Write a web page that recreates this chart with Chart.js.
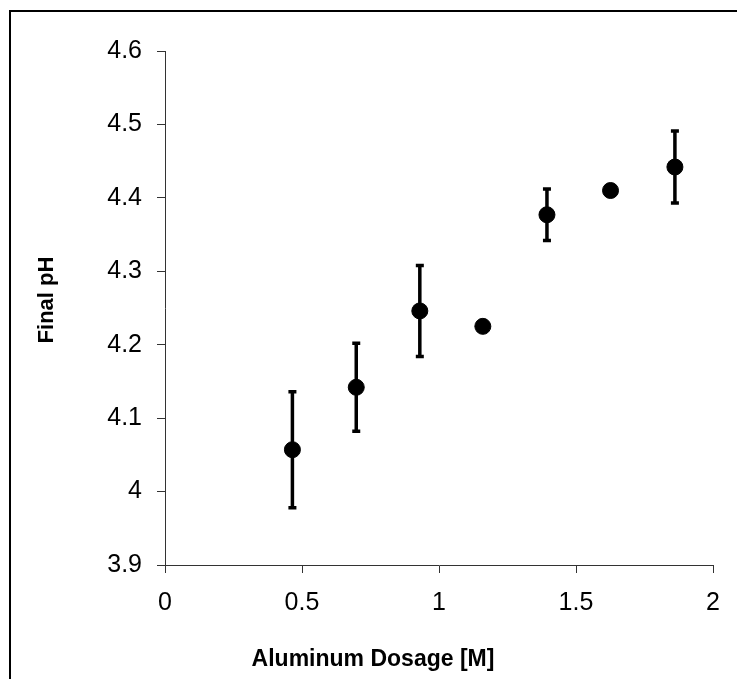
<!DOCTYPE html>
<html>
<head>
<meta charset="utf-8">
<script src="https://cdn.jsdelivr.net/npm/chart.js@4"></script>
<style>
  html, body { margin: 0; padding: 0; background: #fff; overflow: hidden; }
  #wrap { position: relative; width: 737px; height: 679px; }
  #frame {
    position: absolute; left: 9px; top: 10px; width: 760px; height: 700px;
    border-left: 2px solid #000; border-top: 2px solid #000; pointer-events: none;
  }
</style>
</head>
<body>
<div id="wrap">
  <canvas id="phChart" width="737" height="679"></canvas>
  <div id="frame"></div>
</div>
<script>
// values
const dosage  = [0.465, 0.698, 0.930, 1.160, 1.394, 1.626, 1.861];
const finalPH = [4.057, 4.142, 4.246, 4.225, 4.377, 4.410, 4.442];
const phError = [0.079, 0.060, 0.062, 0, 0.035, 0, 0.049];

const xTitle = 'Aluminum Dosage [M]';
const yTitle = 'Final pH';
const FONT = '"Liberation Sans", Arial, sans-serif';

const fmt = v => String(parseFloat(Number(v).toFixed(1)));

// error bars with small caps
const errorBars = {
  id: 'errorBars',
  afterDatasetsDraw(chart) {
    const ctx = chart.ctx;
    const xs = chart.scales.x, ys = chart.scales.y;
    ctx.save();
    ctx.strokeStyle = '#000';
    ctx.lineWidth = 3.5;
    dosage.forEach((d, i) => {
      if (!phError[i]) return;
      const px = xs.getPixelForValue(d);
      const top = ys.getPixelForValue(finalPH[i] + phError[i]);
      const bot = ys.getPixelForValue(finalPH[i] - phError[i]);
      ctx.beginPath();
      ctx.moveTo(px, top); ctx.lineTo(px, bot);
      ctx.moveTo(px - 4, top); ctx.lineTo(px + 4, top);
      ctx.moveTo(px - 4, bot); ctx.lineTo(px + 4, bot);
      ctx.stroke();
    });
    ctx.restore();
  }
};

// axis titles (x title sits left of the plot centre in the original)
const axisTitles = {
  id: 'axisTitles',
  afterDraw(chart) {
    const ctx = chart.ctx;
    const a = chart.chartArea;
    ctx.save();
    ctx.fillStyle = '#000';
    ctx.font = 'bold 23px ' + FONT;
    ctx.textAlign = 'center';
    ctx.textBaseline = 'middle';
    ctx.fillText(xTitle, a.left + 208, a.bottom + 95);
    ctx.font = 'bold 22px ' + FONT;
    ctx.translate(47, a.top + 249);
    ctx.rotate(-Math.PI / 2);
    ctx.fillText(yTitle, 0, 0);
    ctx.restore();
  }
};

new Chart(document.getElementById('phChart'), {
  type: 'scatter',
  data: {
    datasets: [{
      data: dosage.map((d, i) => ({ x: d, y: finalPH[i] })),
      backgroundColor: '#000',
      borderColor: '#000',
      pointRadius: 8,
      pointHoverRadius: 8
    }]
  },
  options: {
    responsive: false,
    animation: false,
    layout: { padding: { left: 0, right: 24, top: 51, bottom: 0 } },
    plugins: { legend: { display: false }, tooltip: { enabled: false } },
    scales: {
      x: {
        type: 'linear',
        min: 0, max: 2,
        afterFit: s => { s.height = 114; },
        grid: { drawOnChartArea: false, drawTicks: true, tickLength: 8, color: '#333', lineWidth: 1 },
        border: { display: true, color: '#333', width: 1 },
        ticks: {
          stepSize: 0.5,
          color: '#000',
          padding: 15,
          font: { family: FONT, size: 25 },
          callback: fmt
        }
      },
      y: {
        type: 'linear',
        min: 3.9, max: 4.6,
        afterFit: s => { s.width = 165; },
        grid: { drawOnChartArea: false, drawTicks: true, tickLength: 8, color: '#333', lineWidth: 1 },
        border: { display: true, color: '#333', width: 1 },
        ticks: {
          stepSize: 0.1,
          color: '#000',
          padding: 15,
          font: { family: FONT, size: 25 },
          callback: fmt
        }
      }
    }
  },
  plugins: [errorBars, axisTitles]
});
</script>
</body>
</html>
